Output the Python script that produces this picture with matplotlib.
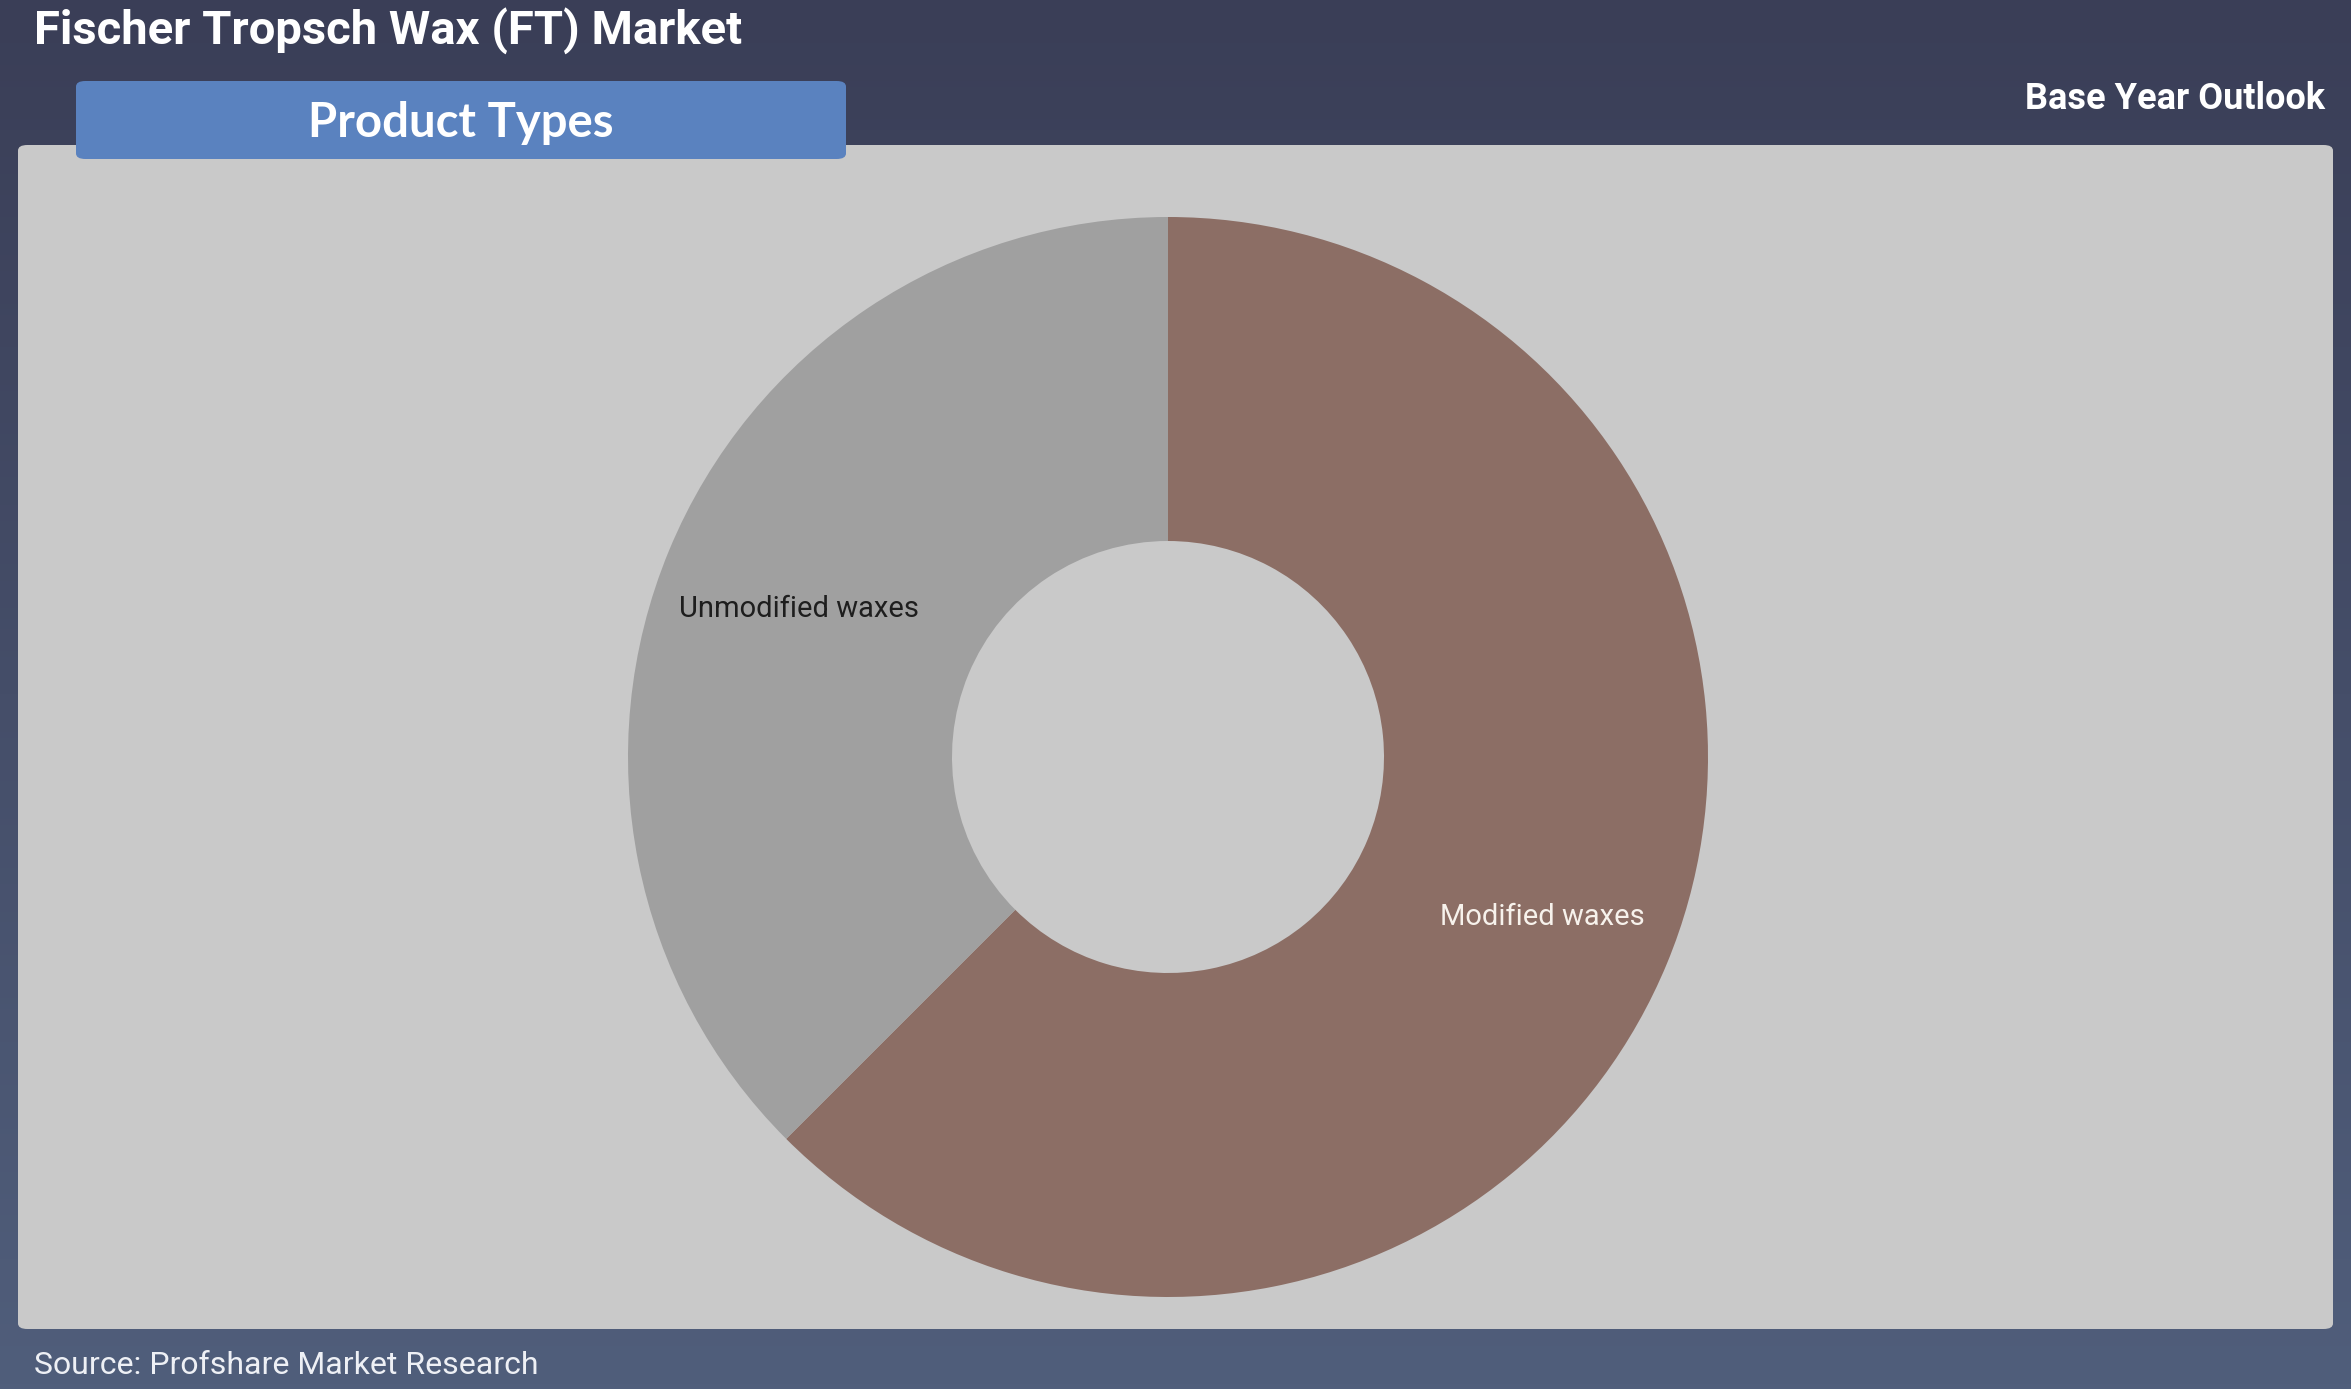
import numpy as np
import matplotlib
matplotlib.use("Agg")
import matplotlib.pyplot as plt
from matplotlib.patches import FancyBboxPatch

# data
categories = ["Modified waxes", "Unmodified waxes"]
shares = [62.5, 37.5]
colors = ["#8c6e65", "#a0a0a0"]
label_colors = ["#f7f2ec", "#1e1e1e"]

W, H = 2351, 1389
fig = plt.figure(figsize=(W / 100, H / 100), dpi=100)

# background gradient
bg = fig.add_axes([0, 0, 1, 1], zorder=0)
grad = np.linspace(0, 1, 256).reshape(-1, 1)
top = np.array([0x3a, 0x3e, 0x57]) / 255
bot = np.array([0x50, 0x5e, 0x7b]) / 255
img = top + (bot - top) * grad[:, :, None]
bg.imshow(img, aspect="auto", extent=[0, 1, 0, 1], origin="upper")
bg.set_xlim(0, 1)
bg.set_ylim(0, 1)
bg.axis("off")

def fx(px):
    return px / W

def fy(py):
    return 1 - py / H

# grey panel
panel = FancyBboxPatch((fx(18), fy(1329)), fx(2333) - fx(18), fy(145) - fy(1329),
                       boxstyle="round,pad=0,rounding_size=0.004",
                       transform=fig.transFigure, facecolor="#c9c9c9",
                       edgecolor="none", zorder=2)
fig.patches.append(panel)

# blue header box
hdr = FancyBboxPatch((fx(76), fy(159)), fx(846) - fx(76), fy(81) - fy(159),
                     boxstyle="round,pad=0,rounding_size=0.004",
                     transform=fig.transFigure, facecolor="#5a82bf",
                     edgecolor="none", zorder=3)
fig.patches.append(hdr)

fig.text(fx(34), fy(31), "Fischer Tropsch Wax (FT) Market", family="Roboto",
         weight="bold", fontsize=34, color="white", ha="left", va="center")
fig.text(fx(461), fy(123), "Product Types", family="Lato", weight="bold",
         fontsize=34, color="white", ha="center", va="center", zorder=4)
fig.text(fx(2325), fy(99), "Base Year Outlook", family="Roboto", weight="bold",
         fontsize=26, color="white", ha="right", va="center")
fig.text(fx(34), fy(1365), "Source: Profshare Market Research", family="Roboto",
         fontsize=23, color="#eef0f5", ha="left", va="center")

# donut
cx, cy, r = 1168, 757, 540
ax = fig.add_axes([fx(cx - r), fy(cy + r), 2 * r / W, 2 * r / H], zorder=5)
ax.patch.set_visible(False)
wedges, _ = ax.pie(shares, colors=colors, startangle=90, counterclock=False,
                   radius=1, wedgeprops=dict(width=0.6, edgecolor="none"))
ax.set_xlim(-1, 1)
ax.set_ylim(-1, 1)
ax.set_aspect("equal")
ax.axis("off")

for w, name, c in zip(wedges, categories, label_colors):
    ang = np.deg2rad((w.theta1 + w.theta2) / 2)
    ax.annotate(name, (0.745 * np.cos(ang), 0.745 * np.sin(ang)),
                xytext=(2, -4), textcoords="offset points", family="Roboto",
                fontsize=21, color=c, ha="center", va="center")

fig.savefig("out.png", dpi=100)
